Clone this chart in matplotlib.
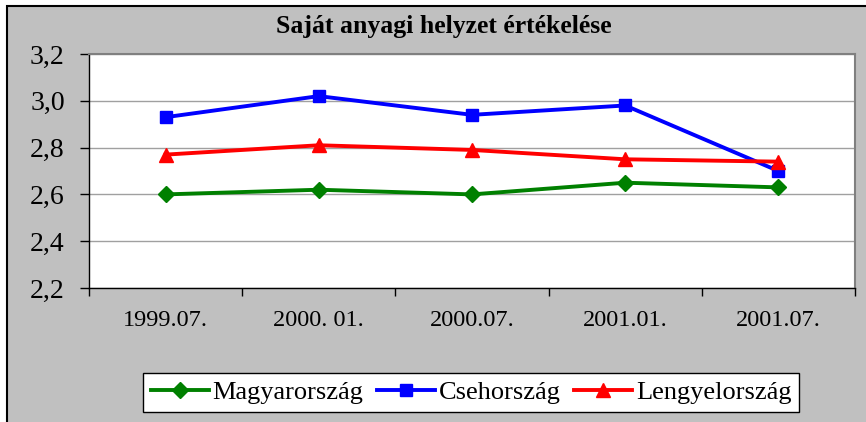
import matplotlib
matplotlib.use('Agg')
import matplotlib.pyplot as plt
from matplotlib.patches import Rectangle
from matplotlib.ticker import FuncFormatter

# Adatok
idopontok = ['1999.07.', '2000. 01.', '2000.07.', '2001.01.', '2001.07.']
magyarorszag = [2.60, 2.62, 2.60, 2.65, 2.63]
csehorszag = [2.93, 3.02, 2.94, 2.98, 2.70]
lengyelorszag = [2.77, 2.81, 2.79, 2.75, 2.74]

plt.rcParams['font.family'] = ['Liberation Serif', 'DejaVu Serif']

fig = plt.figure(figsize=(8.66, 4.22), dpi=100, facecolor='white')

# Szurke keret a diagram korul
keret = Rectangle((7 / 866, -0.05), 1.0, 1 - 6 / 422 + 0.05,
                  transform=fig.transFigure, facecolor='#c0c0c0',
                  edgecolor='black', linewidth=1.5, zorder=-10)
fig.add_artist(keret)

ax = fig.add_axes([89 / 866, 1 - 288 / 422, (855 - 89) / 866, (288 - 54) / 422])
ax.set_facecolor('white')

x = range(len(idopontok))
ax.plot(x, magyarorszag, color='#008000', lw=2.8, marker='D', ms=8.5, label='Magyarország', zorder=3)
ax.plot(x, csehorszag, color='#0000ff', lw=2.8, marker='s', ms=8.5, label='Csehország', zorder=3)
ax.plot(x, lengyelorszag, color='#ff0000', lw=2.8, marker='^', ms=10, label='Lengyelország', zorder=4)

ax.set_xlim(-0.5, len(idopontok) - 0.5)
ax.set_ylim(2.2, 3.2)
ax.set_yticks([2.2, 2.4, 2.6, 2.8, 3.0, 3.2])
ax.yaxis.set_major_formatter(FuncFormatter(lambda v, p: f'{v:.1f}'.replace('.', ',')))
ax.grid(axis='y', color='#a0a0a0', lw=1.0)
ax.set_axisbelow(True)

ax.set_xticks(list(x))
ax.set_xticklabels(idopontok, fontsize=17.5)
ax.set_xticks([i - 0.5 for i in range(len(idopontok) + 1)], minor=True)
ax.tick_params(axis='x', which='major', length=0, pad=16)
ax.tick_params(axis='x', which='minor', length=6, width=1, direction='out', color='black')
ax.tick_params(axis='y', labelsize=20, length=6.5, width=1, pad=11, color='black')

for s in ['left', 'bottom']:
    ax.spines[s].set_color('black')
    ax.spines[s].set_linewidth(1.0)
for s in ['top', 'right']:
    ax.spines[s].set_color('#808080')
    ax.spines[s].set_linewidth(1.5)

fig.text(444 / 866, 1 - 27 / 422, 'Saját anyagi helyzet értékelése',
         ha='center', va='center', fontsize=18.5, fontweight='bold')

leg = fig.legend(loc='center', bbox_to_anchor=(471 / 866, 1 - 392.5 / 422), ncol=3,
                 fontsize=19, frameon=True, fancybox=False, framealpha=1,
                 edgecolor='black', handlelength=2.2, handletextpad=0.15,
                 columnspacing=0.5, borderpad=0.3)
leg.get_frame().set_linewidth(1.0)

fig.savefig('out.png', dpi=100, facecolor=fig.get_facecolor())
